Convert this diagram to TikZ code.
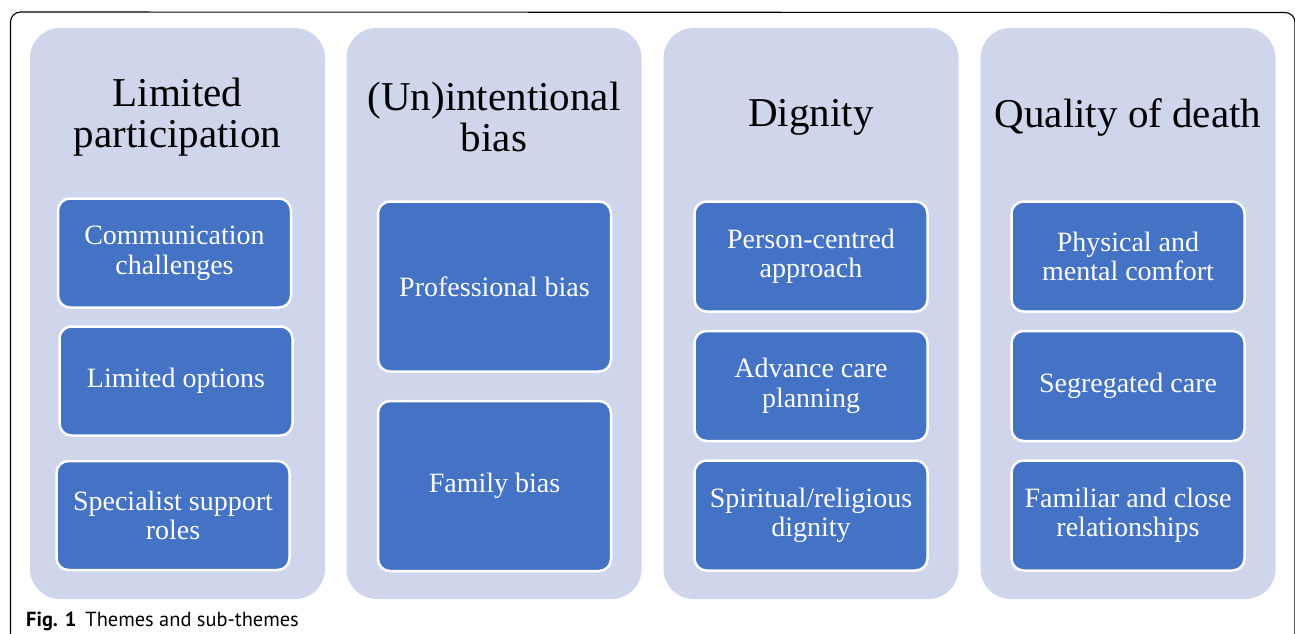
\documentclass[tikz,border=0pt]{standalone}
\usepackage{fontspec}
\setmainfont{Liberation Serif}
\newfontfamily\capfont{PT Sans}
\usepackage{tikz}

\definecolor{colfill}{HTML}{CFD5EA}
\definecolor{boxfill}{HTML}{4472C4}

\begin{document}
\begin{tikzpicture}[x=1pt,y=-1pt,
  theme/.style={fill=colfill, rounded corners=30pt, minimum width=295pt, minimum height=571pt, inner sep=0pt},
  title/.style={align=center, font=\fontsize{41}{41}\selectfont},
  sub/.style={fill=boxfill, draw=white, line width=2.5pt, rounded corners=12pt, minimum width=233pt, align=center, text=white, font=\fontsize{28}{29.5}\selectfont, inner sep=0pt}]
\useasboundingbox (0,0) rectangle (1295,634);
\draw[line width=1.1pt] (10.5,634) -- (10.5,22) arc (180:270:10) -- (1285,12.5) arc (270:360:10) -- (1295,634);

\node[theme] (t1) at (177.5,313.5) {};
\node[theme] (t2) at (494,313.5) {};
\node[theme] (t3) at (811,313.5) {};
\node[theme] (t4) at (1128,313.5) {};

\node[title] (h1) at (177.5,117) {Limited\\participation};
\node[title] (h2) at (494,117) {(Un)intentional\\bias};
\node[title] (h3) at (811,117) {Dignity};
\node[title] (h4) at (1128,117) {Quality of death};

\node[sub, minimum height=109pt] (s11) at (174.5,253) {Communication\\challenges};
\node[sub, minimum height=109pt] (s12) at (176,381) {Limited options};
\node[sub, minimum height=109pt] (s13) at (173,515.5) {Specialist support\\roles};

\node[sub, minimum height=170pt] (s21) at (494.5,286.5) {Professional bias};
\node[sub, minimum height=170pt] (s22) at (494.5,486) {Family bias};

\node[sub, minimum height=110pt] (s31) at (811,256.5) {Person-centred\\approach};
\node[sub, minimum height=110pt] (s32) at (811,386) {Advance care\\planning};
\node[sub, minimum height=110pt] (s33) at (811,515.5) {Spiritual/religious\\dignity};

\node[sub, minimum height=110pt] (s41) at (1128,256.5) {Physical and\\mental comfort};
\node[sub, minimum height=110pt] (s42) at (1128,386) {Segregated care};
\node[sub, minimum height=110pt] (s43) at (1128,515.5) {Familiar and close\\relationships};

\node[anchor=base west, inner sep=0pt, font=\capfont\fontsize{20.4}{22}\selectfont] (cap) at (26,626) {\textbf{Fig. 1}\hspace{9pt}Themes and sub-themes};
\end{tikzpicture}
\end{document}
